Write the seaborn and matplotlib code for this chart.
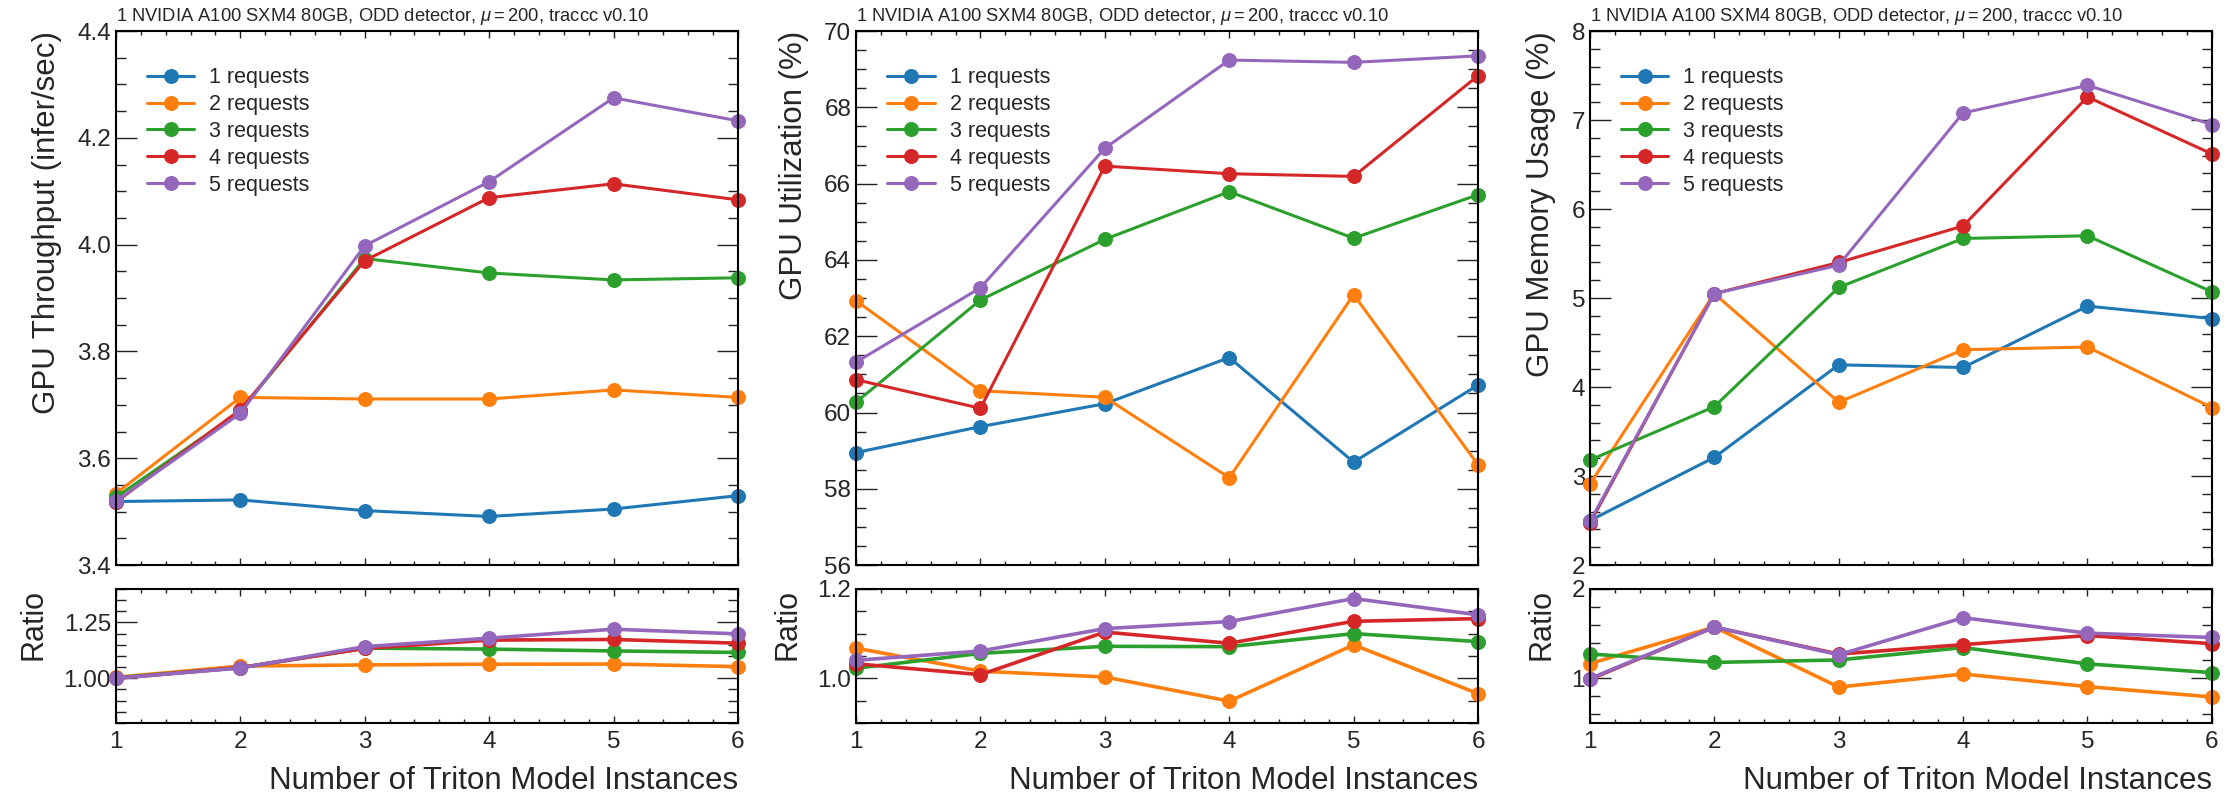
import numpy as np
import pandas as pd
import matplotlib
matplotlib.use("Agg")
import matplotlib.pyplot as plt
from matplotlib.ticker import MultipleLocator
import seaborn as sns

sns.set_style("ticks")
plt.rcParams['font.family'] = ['Liberation Sans', 'DejaVu Sans']
plt.rcParams['mathtext.fontset'] = 'custom'
plt.rcParams['mathtext.it'] = 'Liberation Sans:italic'
plt.rcParams['mathtext.rm'] = 'Liberation Sans'

# data
instances = [1, 2, 3, 4, 5, 6]
requests = ['1 requests', '2 requests', '3 requests', '4 requests', '5 requests']
colors = ['#1f77b4', '#ff7f0e', '#2ca02c', '#d62728', '#9467bd']

throughput_1 = [3.519, 3.522, 3.502, 3.491, 3.505, 3.530]
throughput_2 = [3.534, 3.714, 3.711, 3.711, 3.728, 3.714]
throughput_3 = [3.527, 3.688, 3.974, 3.947, 3.934, 3.938]
throughput_4 = [3.518, 3.691, 3.970, 4.088, 4.114, 4.084]
throughput_5 = [3.520, 3.684, 3.998, 4.118, 4.275, 4.232]

util_1 = [58.95, 59.63, 60.23, 61.44, 58.70, 60.72]
util_2 = [62.93, 60.57, 60.40, 58.29, 63.09, 58.63]
util_3 = [60.27, 62.95, 64.54, 65.79, 64.57, 65.71]
util_4 = [60.86, 60.11, 66.46, 66.26, 66.19, 68.83]
util_5 = [61.32, 63.27, 66.93, 69.24, 69.18, 69.35]

mem_1 = [2.50, 3.21, 4.25, 4.22, 4.91, 4.77]
mem_2 = [2.91, 5.05, 3.83, 4.42, 4.45, 3.77]
mem_3 = [3.18, 3.78, 5.12, 5.67, 5.70, 5.07]
mem_4 = [2.47, 5.05, 5.40, 5.81, 7.26, 6.62]
mem_5 = [2.49, 5.05, 5.37, 7.08, 7.39, 6.95]

title = r'1 NVIDIA A100 SXM4 80GB, ODD detector, $\mu = 200$, traccc v0.10'
ylabels = ['GPU Throughput (infer/sec)', 'GPU Utilization (%)', 'GPU Memory Usage (%)']

panels = [
    dict(series=[throughput_1, throughput_2, throughput_3, throughput_4, throughput_5],
         ylim=(3.4, 4.4), major=0.2, minor=0.05,
         rlim=(0.8, 1.4), rmajor=0.25, rminor=0.05),
    dict(series=[util_1, util_2, util_3, util_4, util_5],
         ylim=(56, 70), major=2, minor=0.5,
         rlim=(0.9, 1.2), rmajor=0.2, rminor=0.05),
    dict(series=[mem_1, mem_2, mem_3, mem_4, mem_5],
         ylim=(2, 8), major=1, minor=0.2,
         rlim=(0.5, 2.0), rmajor=1, rminor=0.2),
]


def style_axes(ax):
    for s in ax.spines.values():
        s.set_linewidth(1.5)
        s.set_color('black')
    ax.tick_params(which='both', direction='in', top=True, right=True,
                   width=1.0, color='#222222')
    ax.tick_params(axis='y', which='major', length=15)
    ax.tick_params(axis='y', which='minor', length=7.5)
    ax.tick_params(axis='x', which='major', length=5)
    ax.tick_params(axis='x', which='minor', length=2.8)
    ax.tick_params(labelsize=17.5)
    ax.tick_params(axis='x', pad=6)
    ax.xaxis.set_major_locator(MultipleLocator(1))
    ax.xaxis.set_minor_locator(MultipleLocator(0.2))
    ax.set_xlim(1, 6)


fig = plt.figure(figsize=(22.34, 7.97), dpi=100)
lefts = [0.0519, 0.3832, 0.7117]
width = 0.2784

for left, ylabel, p in zip(lefts, ylabels, panels):
    ax = fig.add_axes([left, 0.291, width, 0.670])
    axr = fig.add_axes([left, 0.093, width, 0.168])

    base = np.array(p['series'][0])
    for i, (vals, lab, col) in enumerate(zip(p['series'], requests, colors)):
        df = pd.DataFrame({'x': instances, 'y': vals})
        sns.lineplot(data=df, x='x', y='y', ax=ax, color=col, label=lab,
                     marker='o', markersize=10, markeredgecolor=col,
                     linewidth=2.2, clip_on=False)
        if i > 0:
            # ratio to the 1-request series at the same instance count
            dr = pd.DataFrame({'x': instances, 'r': np.array(vals) / base})
            sns.lineplot(data=dr, x='x', y='r', ax=axr, color=col,
                         marker='o', markersize=10, markeredgecolor=col,
                         linewidth=2.6, clip_on=False)

    style_axes(ax)
    style_axes(axr)
    ax.set_ylim(*p['ylim'])
    ax.yaxis.set_major_locator(MultipleLocator(p['major']))
    ax.yaxis.set_minor_locator(MultipleLocator(p['minor']))
    axr.set_ylim(*p['rlim'])
    axr.yaxis.set_major_locator(MultipleLocator(p['rmajor']))
    axr.yaxis.set_minor_locator(MultipleLocator(p['rminor']))

    ax.tick_params(axis='x', labelbottom=False)
    ax.set_xlabel('')
    ax.set_ylabel(ylabel, fontsize=22.5, loc='top', labelpad=11)
    axr.set_ylabel('Ratio', fontsize=22, loc='top', labelpad=11)
    axr.set_xlabel('Number of Triton Model Instances', fontsize=22.5,
                   loc='right', labelpad=9)
    ax.set_title(title, loc='left', fontsize=13.2, pad=7)

    ax.legend(loc='upper left', bbox_to_anchor=(0.05, 0.932), frameon=False,
              fontsize=15.5, handlelength=2.2, handletextpad=0.7,
              labelspacing=0.27, borderaxespad=0, borderpad=0)

fig.savefig('out.png', dpi=100)
